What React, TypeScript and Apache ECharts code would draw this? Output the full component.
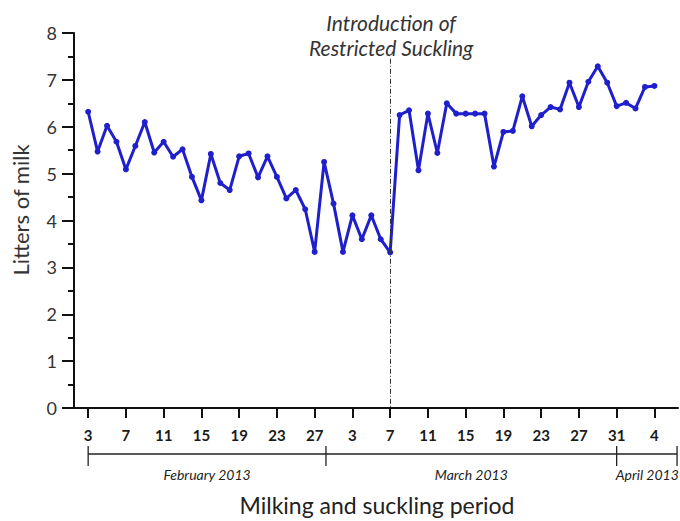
import React, { useEffect, useRef } from "react";
import * as echarts from "echarts";

// Daily milk yield (litres), Feb 3 – Apr 4, 2013
const febValues = [6.32, 5.47, 6.02, 5.68, 5.09, 5.59, 6.1, 5.45, 5.68, 5.36, 5.52, 4.93, 4.43, 5.42, 4.8, 4.65, 5.37, 5.43, 4.92, 5.37, 4.93, 4.47, 4.65, 4.24, 3.33, 5.25];
const marValues = [4.36, 3.33, 4.11, 3.6, 4.11, 3.6, 3.32, 6.25, 6.35, 5.07, 6.28, 5.44, 6.5, 6.28, 6.28, 6.28, 6.28, 5.15, 5.89, 5.91, 6.65, 6.01, 6.25, 6.42, 6.37, 6.94, 6.42, 6.96, 7.29, 6.94, 6.44];
const aprValues = [6.51, 6.39, 6.85, 6.87];

const tickDays = [0, 4, 8, 12, 16, 20, 24, 28, 32, 36, 40, 44, 48, 52, 56, 60];
const tickLabels = ["3", "7", "11", "15", "19", "23", "27", "3", "7", "11", "15", "19", "23", "27", "31", "4"];
const interventionDay = 32; // March 7
const monthBrackets = [
  { label: "February 2013", start: 0, end: 25.2 },
  { label: "March 2013", start: 25.2, end: 56 },
  { label: "April 2013", start: 56, end: 62.4 },
];

const FONT = "Lato, 'Open Sans', sans-serif";

export default function App() {
  const ref = useRef<HTMLDivElement>(null);
  useEffect(() => {
    if (!ref.current) return;
    const chart = echarts.init(ref.current, undefined, { renderer: "svg" });
    const all = [...febValues, ...marValues, ...aprValues];
    const data = all.map((v, i) => [i, v]);
    chart.setOption({
      animation: false,
      backgroundColor: "#ffffff",
      grid: { left: 74, right: 2, top: 33, bottom: 113 },
      xAxis: {
        type: "value",
        min: -1.5,
        max: 62.5,
        splitLine: { show: false },
        axisLine: { onZero: false, lineStyle: { color: "#111", width: 2 } },
        axisTick: { customValues: tickDays, length: 10, lineStyle: { color: "#111", width: 2 } },
        axisLabel: {
          customValues: tickDays,
          formatter: (v: number) => tickLabels[tickDays.indexOf(Math.round(v))] ?? "",
          fontFamily: FONT,
          fontWeight: "bold",
          fontSize: 15,
          color: "#1a1a1a",
          margin: 19,
        },
      },
      yAxis: {
        type: "value",
        min: 0,
        max: 8,
        interval: 1,
        splitLine: { show: false },
        axisLine: { show: true, onZero: false, lineStyle: { color: "#111", width: 2 } },
        axisTick: { show: true, length: 12, lineStyle: { color: "#111", width: 2 } },
        minorTick: { show: true, splitNumber: 2, length: 6, lineStyle: { color: "#111", width: 2 } },
        axisLabel: { fontFamily: FONT, fontSize: 18, color: "#333", margin: 17 },
      },
      series: [
        {
          type: "line",
          data,
          symbol: "circle",
          symbolSize: 6,
          lineStyle: { color: "#1f1fcc", width: 3 },
          itemStyle: { color: "#1f1fcc" },
          markLine: {
            silent: true,
            symbol: "none",
            label: { show: false },
            lineStyle: { color: "#333", width: 1, type: [5, 2, 1, 2] },
            data: [[{ coord: [interventionDay, 7.45] }, { coord: [interventionDay, 0] }]],
          },
        },
      ],
    });

    const px = (d: number) => chart.convertToPixel({ xAxisIndex: 0 }, d) as number;
    const lineY = 454;
    const elements: any[] = [];
    const lastEnd = monthBrackets[monthBrackets.length - 1].end;
    elements.push({ type: "line", shape: { x1: px(0), y1: lineY, x2: px(lastEnd), y2: lineY }, style: { stroke: "#222", lineWidth: 1.3 } });
    const tickPos = [monthBrackets[0].start, ...monthBrackets.map((b) => b.end)];
    tickPos.forEach((d) => {
      elements.push({ type: "line", shape: { x1: px(d), y1: 446, x2: px(d), y2: 466 }, style: { stroke: "#222", lineWidth: 1.3 } });
    });
    monthBrackets.forEach((b, i) => {
      const last = i === monthBrackets.length - 1;
      elements.push({
        type: "text",
        x: last ? px(b.start) - 1 : (px(b.start) + px(b.end)) / 2,
        y: 474,
        style: {
          text: b.label,
          fontFamily: FONT,
          fontStyle: "italic",
          fontSize: 14,
          fill: "#222",
          textAlign: last ? "left" : "center",
          textVerticalAlign: "middle",
        },
      });
    });
    const cx = px(interventionDay) + 1;
    elements.push({
      type: "text", x: cx, y: 22,
      style: { text: "Introduction of", fontFamily: FONT, fontStyle: "italic", fontSize: 21, fill: "#333", textAlign: "center", textVerticalAlign: "middle" },
    });
    elements.push({
      type: "text", x: cx, y: 47,
      style: { text: "Restricted Suckling", fontFamily: FONT, fontStyle: "italic", fontSize: 21, fill: "#333", textAlign: "center", textVerticalAlign: "middle" },
    });
    elements.push({
      type: "text", x: 377, y: 505,
      style: { text: "Milking and suckling period", fontFamily: FONT, fontSize: 23, fill: "#222", textAlign: "center", textVerticalAlign: "middle" },
    });
    elements.push({
      type: "text", x: 20, y: 210, rotation: Math.PI / 2,
      style: { text: "Litters of milk", fontFamily: FONT, fontSize: 22, fill: "#333", textAlign: "center", textVerticalAlign: "middle" },
    });
    chart.setOption({ graphic: { elements } });

    return () => chart.dispose();
  }, []);
  return <div ref={ref} style={{ position: "fixed", left: 0, top: 0, width: 680, height: 521 }} />;
}
